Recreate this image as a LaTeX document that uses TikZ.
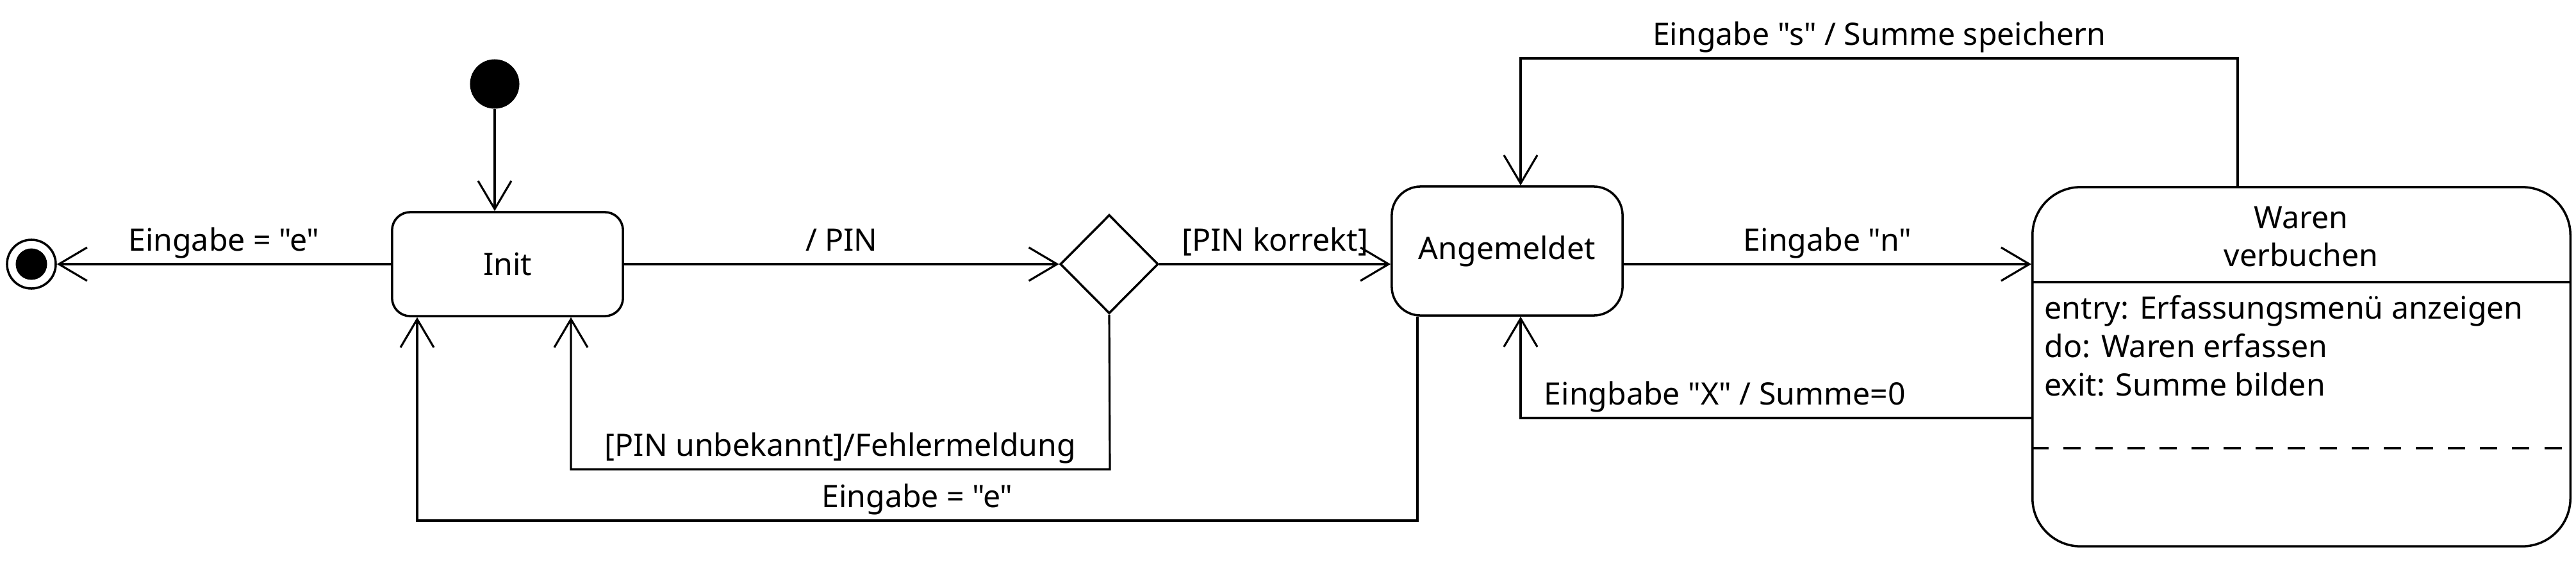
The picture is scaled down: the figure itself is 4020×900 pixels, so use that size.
\documentclass[tikz,border=0pt]{standalone}
\usepackage{fontspec}
\setmainfont{Noto Sans}[Ligatures=TeXOff]
\usetikzlibrary{shapes.geometric,arrows.meta}

\begin{document}
\begin{tikzpicture}[x=0.01cm,y=-0.01cm,font=\fontsize{13.7pt}{17pt}\selectfont]
  \tikzset{state/.style = {shape=rectangle,draw,line width=1pt,minimum width=3.6cm}}
  \tikzset{edge/.style = {-{Straight Barb[length=0.44cm,width=0.52cm]},line width=0.9pt}}
  \tikzset{lbl/.style = {above,inner sep=2pt,text depth=3.3pt}}
  \useasboundingbox (0,0) rectangle (4020,900);

	\node[circle,fill,minimum size=0.77cm,inner sep=0pt](start) at (772,131) {};
	\node[circle,draw,line width=1pt,minimum size=0.76cm,inner sep=0pt](final) at (49,412) {};
	\fill (final) circle (0.245cm);

	\node[state,minimum height=1.62cm,rounded corners=0.28cm](init) at (792,412) {Init};
	\node[diamond,draw,line width=1pt,minimum width=1.53cm,minimum height=1.54cm,inner sep=0pt](choice) at (1731,412) {};
	\node[state,minimum height=2.01cm,rounded corners=0.45cm](angem) at (2352,391.5) {Angemeldet};

	\node[state,minimum width=8.39cm,minimum height=5.6cm,rounded corners=0.75cm](waren) at (3591.5,572) {};
	\node[align=center,inner sep=0pt](wtitle) at (3591,369) {Waren\\verbuchen};
	\node[align=left,anchor=north west,inner sep=0pt](wbody) at (3190,460) {entry: Erfassungsmenü anzeigen\\do: Waren erfassen\\exit: Summe bilden};
	\draw[line width=1pt] (waren.west |- 0,440) -- (waren.east |- 0,440);
	\draw[line width=1pt,dash pattern=on 0.27cm off 0.23cm] (waren.west |- 0,699) -- (waren.east |- 0,699);

	% corner points of the bent transitions
	\coordinate (s1) at (3492,91);
	\coordinate (s2) at (2373,91);
	\coordinate (x1) at (2373,652);
	\coordinate (p1) at (1732,732);
	\coordinate (p2) at (891,732);
	\coordinate (q1) at (2212,812);
	\coordinate (q2) at (651,812);

	\draw[edge] (start) -- (start |- init.north);
    \foreach \from/\to/\txt in {init/final/{Eingabe = "e"}, init/choice/{/ PIN}, choice/{choice -| angem.west}/{[PIN korrekt]}, {angem.east |- choice}/{waren.west |- choice}/{Eingabe "n"}}
    \draw[edge] (\from) -- node[lbl]{\txt} (\to);

	\draw[edge] (waren.north -| s1) -- (s1) -- node[lbl]{Eingabe "s" / Summe speichern} (s2) -- (angem.north -| s2);
	\draw[edge] (waren.west |- x1) -- node[lbl,pos=0.6]{Eingbabe "X" / Summe=0} (x1) -- (angem.south -| x1);
	\draw[edge] (choice.south) -- (p1) -- node[lbl]{[PIN unbekannt]/Fehlermeldung} (p2) -- (init.south -| p2);
	\draw[edge] (angem.south -| q1) -- (q1) -- node[lbl]{Eingabe = "e"} (q2) -- (init.south -| q2);
\end{tikzpicture}
\end{document}
